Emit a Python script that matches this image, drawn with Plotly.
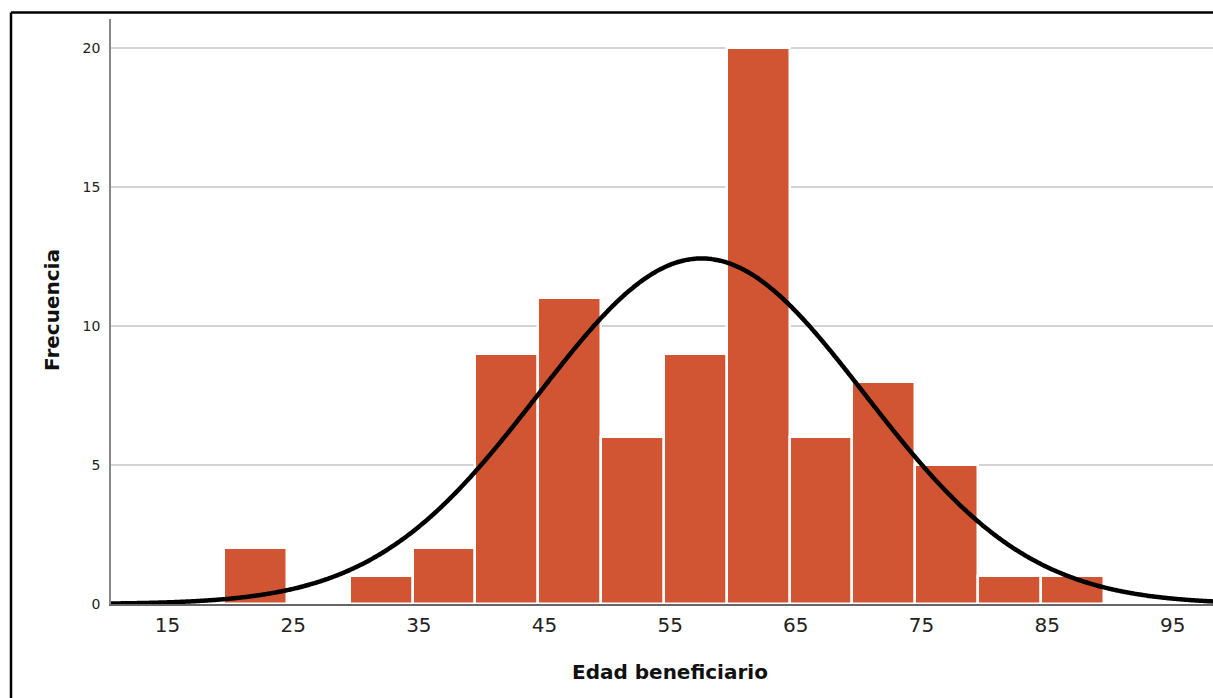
import numpy as np
import plotly.graph_objects as go

# Histogram data
bin_left = [19.5, 24.5, 29.5, 34.5, 39.5, 44.5, 49.5, 54.5, 59.5, 64.5, 69.5, 74.5, 79.5, 84.5]
bin_width = 5
counts = [2, 0, 1, 2, 9, 11, 6, 9, 20, 6, 8, 5, 1, 1]

# Fitted normal curve parameters
curve_mean = 57.5
curve_sd = 13.0

x_ticks = [15, 25, 35, 45, 55, 65, 75, 85, 95]
y_ticks = [0, 5, 10, 15, 20]

BAR_COLOR = "#D15433"
FONT = "DejaVu Sans, sans-serif"

centers = [l + bin_width / 2 for l in bin_left]
n_total = sum(counts)
xs = np.linspace(10.5, 100, 600)
ys = n_total * bin_width / (curve_sd * np.sqrt(2 * np.pi)) * np.exp(-0.5 * ((xs - curve_mean) / curve_sd) ** 2)

fig = go.Figure()
fig.add_trace(go.Bar(
    x=centers, y=counts, width=[bin_width] * len(counts),
    marker=dict(color=BAR_COLOR, line=dict(color="white", width=2.5)),
    hoverinfo="x+y", showlegend=False,
))
fig.add_trace(go.Scatter(
    x=xs, y=ys, mode="lines", line=dict(color="black", width=4.5, shape="spline"),
    showlegend=False, hoverinfo="skip",
))

W, H = 1213, 698
L, R, T, B = 111, 1213, 19, 604
pw, ph = R - L, B - T

def px(xp):
    return (xp - L) / pw

def py(yp):
    return (B - yp) / ph

fig.update_layout(
    width=W, height=H,
    margin=dict(l=L, r=W - R, t=T, b=H - B),
    paper_bgcolor="white", plot_bgcolor="white",
    bargap=0,
    xaxis=dict(
        range=[10.5, 98.2], tickvals=x_ticks, ticktext=[str(v) for v in x_ticks],
        showgrid=False, zeroline=False, showline=True, linecolor="#666666", linewidth=2,
        ticks="", tickfont=dict(family=FONT, size=20, color="#222222"),
        ticklabelstandoff=2,
    ),
    yaxis=dict(
        range=[0, 21.04], tickvals=y_ticks, ticktext=[str(v) for v in y_ticks],
        showgrid=True, gridcolor="#D3D3D3", gridwidth=1.5, zeroline=False,
        showline=True, linecolor="#888888", linewidth=1.5,
        ticks="", tickfont=dict(family=FONT, size=14, color="#222222"),
        ticklabelstandoff=6,
    ),
    annotations=[
        dict(text="<b>Frecuencia</b>", x=px(52), y=py(310), xref="paper", yref="paper",
             textangle=-90, showarrow=False, xanchor="center", yanchor="middle",
             font=dict(family=FONT, size=20, color="#111111")),
        dict(text="<b>Edad beneficiario</b>", x=px(670), y=py(672), xref="paper", yref="paper",
             showarrow=False, xanchor="center", yanchor="middle",
             font=dict(family=FONT, size=20, color="#111111")),
    ],
    shapes=[
        dict(type="line", xref="paper", yref="paper", x0=px(11), x1=px(1230), y0=py(12.5), y1=py(12.5),
             line=dict(color="black", width=2.5)),
        dict(type="line", xref="paper", yref="paper", x0=px(11), x1=px(11), y0=py(12.5), y1=py(720),
             line=dict(color="black", width=2.5)),
    ],
)

fig.write_html("out.html")
